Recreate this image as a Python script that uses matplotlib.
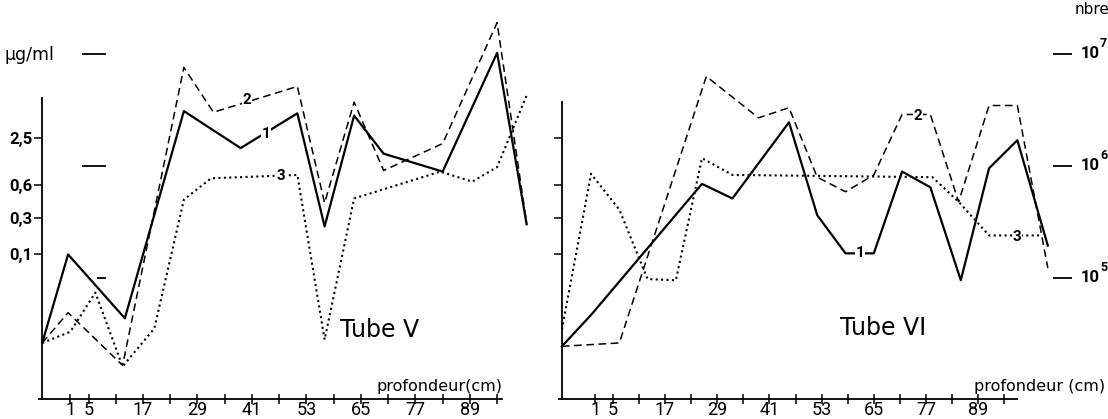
import matplotlib
matplotlib.use("Agg")
import matplotlib.pyplot as plt

plt.rcParams['font.family'] = ['DejaVu Sans']
NARROW = ['Liberation Sans Narrow', 'Roboto', 'DejaVu Sans']

# axe horizontal : profondeur (cm)
prof_ticks = [1, 5, 17, 29, 41, 53, 65, 77, 89]
prof_minor = [11, 23, 35, 47, 59, 71, 83, 95]

# axe vertical : log10(nbre) ; graduations en ug/ml placees sur la meme echelle
ug_pos = [6.25, 5.83, 5.54, 5.21]
ug_labels = ['2,5', '0,6', '0,3', '0,1']
nbre_exp = [5, 6, 7]

# Tube V
v_prof_1 = [-5.2, 0.5, 13, 26, 38.5, 51, 57, 63.5, 70, 83, 95, 101.5]
v_val_1 = [4.42, 5.21, 4.64, 6.49, 6.16, 6.47, 5.46, 6.45, 6.11, 5.95, 7.01, 5.48]
v_prof_2 = [-5.2, 0.5, 12.5, 26, 32.5, 51, 57, 63.5, 70, 83, 95, 101.5]
v_val_2 = [4.42, 4.69, 4.22, 6.88, 6.48, 6.71, 5.67, 6.57, 5.96, 6.20, 7.28, 5.49]
v_prof_3 = [-5.2, 1, 6.5, 12.5, 19.5, 26, 32, 51, 57, 63.5, 82.5, 89.5, 95, 101.5]
v_val_3 = [4.42, 4.52, 4.87, 4.21, 4.55, 5.70, 5.89, 5.92, 4.45, 5.71, 5.95, 5.86, 5.99, 6.63]
v_etiq = [(44.1, 6.29), (39.9, 6.59), (47.4, 5.91)]

# Tube VI
vi_prof_1 = [-6.7, 0, 25.5, 32.5, 45.5, 52, 58.5, 65, 71.5, 78, 85, 91.5, 98, 105]
vi_val_1 = [4.39, 4.67, 5.84, 5.71, 6.39, 5.56, 5.22, 5.22, 5.95, 5.81, 4.98, 5.98, 6.23, 5.29]
vi_prof_2 = [-6.7, 6.5, 26.5, 38.5, 45.5, 52, 58.5, 65, 71.5, 78, 84.5, 91.5, 98, 105]
vi_val_2 = [4.39, 4.42, 6.80, 6.43, 6.52, 5.90, 5.77, 5.92, 6.46, 6.46, 5.68, 6.54, 6.54, 5.09]
vi_prof_3 = [-6.7, 0, 6.5, 13, 19.5, 25.5, 32.5, 78.5, 84.5, 91.5, 103.5]
vi_val_3 = [4.54, 5.93, 5.61, 4.99, 4.98, 6.07, 5.92, 5.90, 5.68, 5.38, 5.38]
vi_etiq = [(61.8, 5.22), (75.2, 6.45), (97.9, 5.37)]

STYLES = ['-', (0, (5, 3)), (0, (1, 1.6))]
WIDTHS = [1.6, 1.1, 1.5]
YLIM = (3.741, 7.482)


def draw_panel(ax, series, etiq, xlim, x_axis, x_end, y_top, title, title_pos, xlabel, xlabel_x, ylabels):
    ax.set_xlim(*xlim)
    ax.set_ylim(*YLIM)
    ax.patch.set_alpha(0)
    for (px, vals), ls, lw in zip(series, STYLES, WIDTHS):
        ax.plot(px, vals, color='black', linestyle=ls, linewidth=lw, clip_on=False)
    for i, (x, y) in enumerate(etiq):
        ax.text(x, y, str(i + 1), ha='center', va='center', fontsize=11, fontweight='bold',
                family=NARROW, bbox=dict(facecolor='white', edgecolor='none', pad=0.6))

    ax.spines['top'].set_visible(False)
    ax.spines['right'].set_visible(False)
    ax.spines['left'].set_position(('data', x_axis))
    ax.spines['left'].set_bounds(3.924, y_top)
    ax.spines['bottom'].set_position(('data', 3.924))
    ax.spines['bottom'].set_bounds(x_axis - 0.7, x_end)
    for s in ('left', 'bottom'):
        ax.spines[s].set_linewidth(1.3)

    ax.set_xticks(prof_ticks)
    ax.set_xticks(prof_minor, minor=True)
    ax.set_xticklabels([str(t) for t in prof_ticks], family=NARROW, fontsize=13)
    ax.tick_params(axis='x', which='both', direction='inout', length=7, width=1.1, pad=-1.5)

    ax.set_yticks(ug_pos)
    if ylabels:
        ax.set_yticklabels(ug_labels, family=NARROW, fontsize=12, fontweight='bold')
    else:
        ax.set_yticklabels([])
    ax.tick_params(axis='y', direction='out', length=6, width=1.1, pad=1)

    ax.text(title_pos[0], title_pos[1], title, ha='center', va='center', fontsize=17)
    ax.text(xlabel_x, 3.99, xlabel, ha='right', va='baseline', fontsize=11.5)


fig = plt.figure(figsize=(11.08, 4.19), dpi=100)
ax1 = fig.add_axes([0, 0, 0.5, 1])
ax2 = fig.add_axes([0.5, 0, 0.5, 1])

draw_panel(ax1, [(v_prof_1, v_val_1), (v_prof_2, v_val_2), (v_prof_3, v_val_3)], v_etiq,
           (-14.50, 107.53), -5.2, 96.1, 6.607, 'Tube V', (69.2, 4.54),
           'profondeur(cm)', 96.1, True)
draw_panel(ax2, [(vi_prof_1, vi_val_1), (vi_prof_2, vi_val_2), (vi_prof_3, vi_val_3)], vi_etiq,
           (-8.52, 118.84), -6.7, 97.9, 6.571, 'Tube VI', (67.1, 4.55),
           'profondeur (cm)', 118.1, False)

# echelle du nombre (10^5 .. 10^7)
for e in nbre_exp:
    x0 = 6.9 if e == 5 else 3.6
    ax1.hlines(e, x0, 8.8, color='black', linewidth=1.3)
    ax2.hlines(e, 106.2, 110.6, color='black', linewidth=1.3)
    ax2.text(112.6, e, '10', ha='left', va='center', fontsize=12, fontweight='bold', family=NARROW)
    ax2.text(117.0, e + 0.09, str(e), ha='left', va='center', fontsize=9, fontweight='bold',
             family=NARROW)

ax1.text(-13.4, 6.99, 'µg/ml', ha='left', va='center', fontsize=12.5)
ax2.text(111.2, 7.40, 'nbre', ha='left', va='center', fontsize=11)

fig.savefig('out.png', dpi=100)
